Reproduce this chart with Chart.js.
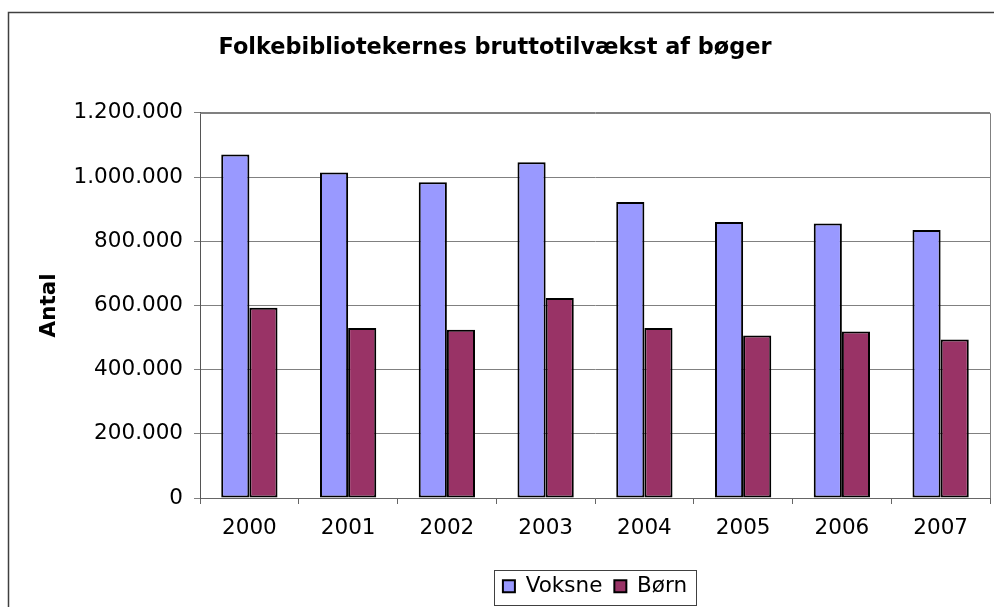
<!DOCTYPE html>
<html>
<head>
<meta charset="utf-8">
<script src="https://cdn.jsdelivr.net/npm/chart.js@4.4.1/dist/chart.umd.min.js"></script>
<style>
  html, body { margin: 0; padding: 0; background: #fff; }
  canvas { display: block; }
</style>
</head>
<body>
<canvas id="c" width="994" height="607"></canvas>
<script>
const years = ['2000', '2001', '2002', '2003', '2004', '2005', '2006', '2007'];
const voksne = [1070000, 1014000, 984000, 1046000, 922000, 860000, 855000, 835000];
const boern = [593000, 530000, 524000, 623000, 530000, 506000, 519000, 494000];
const yTicks = [0, 200000, 400000, 600000, 800000, 1000000, 1200000];

const FONT = 'DejaVu Sans, Verdana, sans-serif';

function fmt(v) {
  return String(Math.round(v)).replace(/\B(?=(\d{3})+(?!\d))/g, '.');
}

const framePlugin = {
  id: 'frame',
  afterDraw(chart) {
    const ctx = chart.ctx;
    const a = chart.chartArea;
    ctx.save();
    ctx.strokeStyle = '#808080';
    ctx.lineWidth = 1;
    ctx.beginPath();
    ctx.moveTo(a.left, Math.round(a.top) + 0.5);
    ctx.lineTo(Math.round(a.right) + 0.5, Math.round(a.top) + 0.5);
    ctx.lineTo(Math.round(a.right) + 0.5, a.bottom);
    ctx.stroke();
    ctx.strokeStyle = '#404040';
    ctx.lineWidth = 1.5;
    ctx.beginPath();
    ctx.moveTo(8.5, chart.height + 2);
    ctx.lineTo(8.5, 12.5);
    ctx.lineTo(chart.width + 2, 12.5);
    ctx.stroke();
    const lg = chart.legend;
    if (lg && lg.legendHitBoxes && lg.legendHitBoxes.length) {
      const hb = lg.legendHitBoxes;
      const l = hb[0].left - 9;
      const r = hb[hb.length - 1].left + hb[hb.length - 1].width + 9;
      const cy = hb[0].top + hb[0].height / 2 + 1;
      ctx.strokeStyle = '#404040';
      ctx.lineWidth = 1;
      ctx.strokeRect(Math.round(l) + 0.5, Math.round(cy - 17.5) + 0.5, Math.round(r - l), 35);
    }
    ctx.restore();
  }
};

new Chart(document.getElementById('c'), {
  type: 'bar',
  data: {
    labels: years,
    datasets: [
      {
        label: 'Voksne',
        data: voksne,
        backgroundColor: '#9999FF',
        borderColor: '#000000',
        borderWidth: 2,
        borderSkipped: false,
        categoryPercentage: 0.57,
        barPercentage: 1.0
      },
      {
        label: 'Børn',
        data: boern,
        backgroundColor: '#993366',
        borderColor: '#000000',
        borderWidth: 2,
        borderSkipped: false,
        categoryPercentage: 0.57,
        barPercentage: 1.0
      }
    ]
  },
  options: {
    responsive: false,
    animation: false,
    devicePixelRatio: 1,
    layout: { padding: { left: 0, right: 4, top: 0, bottom: 0 } },
    plugins: {
      title: {
        display: true,
        text: 'Folkebibliotekernes bruttotilvækst af bøger',
        color: '#000',
        font: { family: FONT, size: 22.4, weight: 'bold' },
        padding: { top: 35, bottom: 51 }
      },
      legend: {
        position: 'bottom',
        fullSize: false,
        labels: {
          color: '#000',
          font: { family: FONT, size: 21.5 },
          boxWidth: 12,
          boxHeight: 12,
          padding: 12
        }
      },
      tooltip: { enabled: false }
    },
    scales: {
      x: {
        offset: true,
        grid: {
          display: true,
          drawOnChartArea: false,
          drawTicks: true,
          tickLength: 6,
          offset: true,
          color: '#666'
        },
        border: { display: true, color: '#666', width: 1 },
        ticks: {
          color: '#000',
          font: { family: FONT, size: 21.5 },
          padding: 12,
          maxRotation: 0
        },
        afterFit(s) { s.height = 65.5; }
      },
      y: {
        min: 0,
        max: 1200000,
        afterBuildTicks(s) { s.ticks = yTicks.map(v => ({ value: v })); },
        grid: {
          color: '#808080',
          lineWidth: 1,
          drawTicks: true,
          tickLength: 6
        },
        border: { display: true, color: '#555', width: 1 },
        ticks: {
          color: '#000',
          font: { family: FONT, size: 21.5 },
          padding: 11,
          callback: v => fmt(v)
        },
        title: {
          display: true,
          text: 'Antal',
          color: '#000',
          font: { family: FONT, size: 21.5, weight: 'bold' },
          padding: { top: 37, bottom: 0 }
        },
        afterFit(s) { s.width = 200; }
      }
    }
  },
  plugins: [framePlugin]
});
</script>
</body>
</html>
